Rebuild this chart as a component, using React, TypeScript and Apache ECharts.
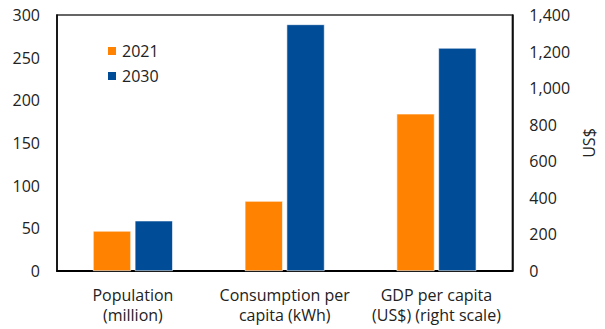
import React, { useEffect, useRef } from "react";
import * as echarts from "echarts";

const categories = [
  "Population\n(million)",
  "Consumption per\ncapita (kWh)",
  "GDP per capita\n(US$) (right scale)",
];
const years = ["2021", "2030"];
const values2021 = [47, 82, 860];
const values2030 = [59, 289, 1220];
const rightScaleCategory = [false, false, true];

const leftTicks = { min: 0, max: 300, interval: 50 };
const rightTicks = { min: 0, max: 1400, interval: 200 };

const colors = ["#FF8200", "#004C97"];
const FONT = "'Open Sans', 'Segoe UI', sans-serif";

function onAxis(values: number[], right: boolean): (number | string)[] {
  return values.map((v, i) => (rightScaleCategory[i] === right ? v : "-"));
}

export default function App() {
  const ref = useRef<HTMLDivElement>(null);

  useEffect(() => {
    if (!ref.current) return;
    const chart = echarts.init(ref.current, undefined, { renderer: "svg" });
    const yearValues = [values2021, values2030];

    const series: any[] = [];
    years.forEach((year, k) => {
      [false, true].forEach((right) => {
        series.push({
          name: year,
          type: "bar",
          stack: "year" + year,
          yAxisIndex: right ? 1 : 0,
          data: onAxis(yearValues[k], right),
          barWidth: 38,
          barGap: "10%",
          itemStyle: { color: colors[k], borderColor: "#ffffff", borderWidth: 0.6 },
        });
      });
    });

    chart.setOption({
      animation: false,
      textStyle: { fontFamily: FONT },
      grid: {
        left: 57,
        right: 82,
        top: 15,
        bottom: 58,
        show: true,
        borderColor: "#333",
        borderWidth: 1.5,
        containLabel: false,
      },
      legend: {
        data: years,
        orient: "vertical",
        left: 106,
        top: 43,
        padding: 0,
        itemWidth: 10,
        itemHeight: 10,
        itemGap: 9,
        icon: "rect",
        textStyle: { fontSize: 16, color: "#222", fontFamily: FONT, padding: [0, 0, 0, 0] },
      },
      xAxis: {
        type: "category",
        data: categories,
        axisLine: { show: true, lineStyle: { color: "#000", width: 2 } },
        axisTick: { show: false },
        axisLabel: {
          interval: 0,
          fontSize: 16,
          lineHeight: 20,
          margin: 14,
          color: "#222",
          fontFamily: FONT,
        },
      },
      yAxis: [
        {
          type: "value",
          ...leftTicks,
          axisLine: { show: true, lineStyle: { color: "#000", width: 1.5 } },
          axisTick: { show: false },
          splitLine: { show: false },
          axisLabel: { fontSize: 16, margin: 17, color: "#222", fontFamily: FONT },
        },
        {
          type: "value",
          position: "right",
          ...rightTicks,
          name: "US$",
          nameLocation: "middle",
          nameRotate: 90,
          nameGap: 63,
          nameTextStyle: { fontSize: 16, color: "#222", fontFamily: FONT },
          axisLine: { show: true, lineStyle: { color: "#000", width: 1.5 } },
          axisTick: { show: false },
          splitLine: { show: false },
          axisLabel: {
            fontSize: 16,
            margin: 17,
            color: "#222",
            fontFamily: FONT,
            formatter: (v: number) => v.toLocaleString("en-US"),
          },
        },
      ],
      series,
    });

    return () => chart.dispose();
  }, []);

  return (
    <div
      ref={ref}
      style={{ position: "fixed", left: 0, top: 0, width: 605, height: 329, background: "#fff" }}
    />
  );
}
